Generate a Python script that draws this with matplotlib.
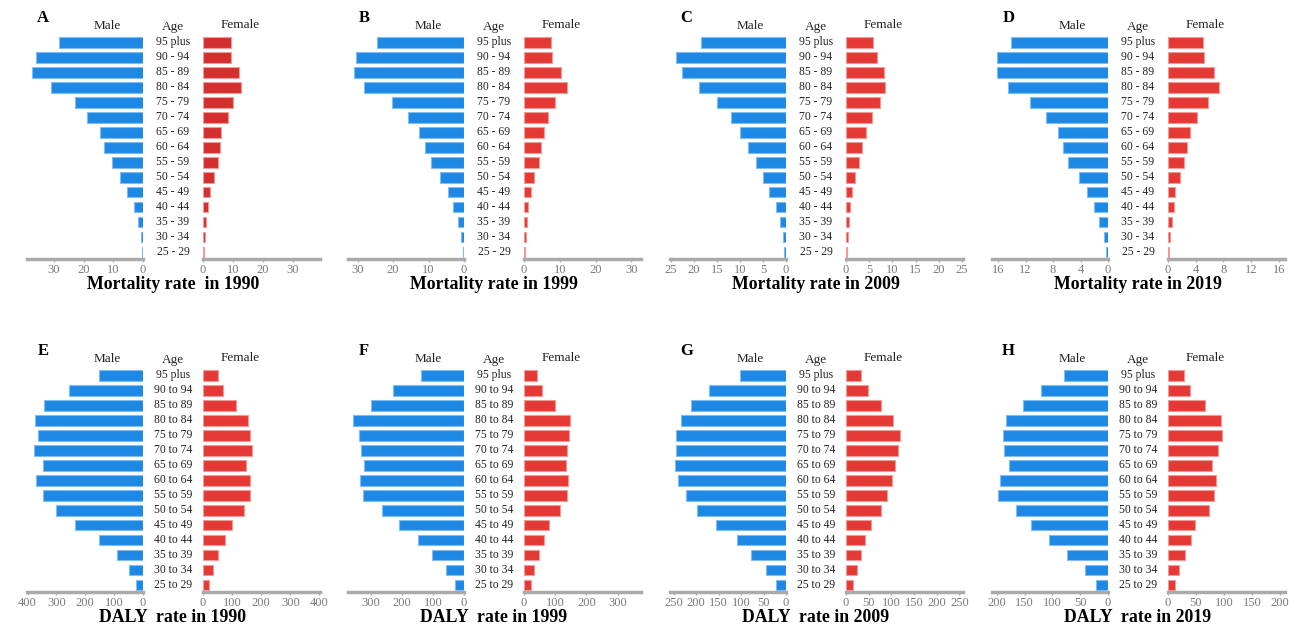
import matplotlib
matplotlib.use("Agg")
import matplotlib.pyplot as plt
import numpy as np

plt.rcParams['font.family'] = ['Liberation Serif', 'DejaVu Serif']

# age groups, listed from the oldest (top row) to the youngest (bottom row)
mort_ages = ["95 plus", "90 - 94", "85 - 89", "80 - 84", "75 - 79", "70 - 74", "65 - 69",
             "60 - 64", "55 - 59", "50 - 54", "45 - 49", "40 - 44", "35 - 39", "30 - 34", "25 - 29"]
daly_ages = ["95 plus", "90 to 94", "85 to 89", "80 to 84", "75 to 79", "70 to 74", "65 to 69",
             "60 to 64", "55 to 59", "50 to 54", "45 to 49", "40 to 44", "35 to 39", "30 to 34", "25 to 29"]

# mortality rate per 100,000
mort_male_1990 = [28.3, 36.1, 37.2, 30.8, 23.0, 18.9, 14.4, 13.0, 10.3, 7.8, 5.3, 3.1, 1.7, 0.8, 0.3]
mort_female_1990 = [9.2, 9.3, 12.1, 12.6, 10.0, 8.3, 6.0, 5.6, 4.9, 3.7, 2.2, 1.6, 1.0, 0.55, 0.3]
mort_male_1999 = [24.4, 30.5, 31.0, 28.2, 20.4, 15.9, 12.7, 11.1, 9.4, 6.7, 4.6, 3.0, 1.8, 0.9, 0.4]
mort_female_1999 = [7.5, 7.9, 10.4, 11.9, 8.8, 6.7, 5.5, 4.8, 4.1, 2.9, 1.9, 1.2, 0.8, 0.55, 0.35]
mort_male_2009 = [18.5, 23.8, 22.5, 18.8, 14.9, 11.9, 10.1, 8.3, 6.5, 5.1, 3.6, 2.1, 1.35, 0.7, 0.35]
mort_female_2009 = [5.9, 6.7, 8.2, 8.4, 7.3, 5.6, 4.4, 3.5, 2.7, 1.9, 1.3, 0.85, 0.65, 0.35, 0.2]
mort_male_2019 = [14.1, 16.2, 16.1, 14.5, 11.4, 9.0, 7.3, 6.6, 5.8, 4.2, 3.1, 2.1, 1.35, 0.6, 0.3]
mort_female_2019 = [5.0, 5.2, 6.7, 7.4, 5.75, 4.2, 3.2, 2.8, 2.3, 1.8, 1.0, 0.8, 0.55, 0.3, 0.15]

# DALY rate per 100,000
daly_male_1990 = [154, 258, 342, 373, 365, 379, 347, 372, 347, 300, 234, 154, 90, 48, 23]
daly_female_1990 = [50, 69, 114, 153, 162, 169, 147, 161, 161, 140, 99, 74, 52, 35, 22]
daly_male_1999 = [140, 228, 301, 360, 341, 333, 323, 335, 326, 265, 209, 150, 103, 57, 28]
daly_female_1999 = [41, 58, 98, 148, 145, 138, 136, 142, 139, 114, 81, 65, 47, 33, 22]
daly_male_2009 = [102, 172, 211, 234, 244, 244, 246, 240, 222, 198, 156, 108, 77, 44, 22]
daly_female_2009 = [33, 49, 77, 104, 118, 114, 107, 102, 90, 77, 56, 42, 33, 24, 15]
daly_male_2019 = [79, 120, 154, 183, 189, 187, 178, 195, 199, 165, 138, 107, 73, 41, 21]
daly_female_2019 = [28, 40, 66, 94, 96, 89, 78, 85, 82, 73, 48, 41, 30, 19, 13]

BLUE = '#1E88E5'
BLUE_EDGE = '#7FBCF2'
RED = '#E53935'
RED_DARK = '#D32F2F'
RED_EDGE = '#F29A98'
GRAY = '#AAAAAA'

# (letter, title, ages, male, female, axis limit, tick step, female colour)
panels = [
    ("A", "Mortality rate  in 1990", mort_ages, mort_male_1990, mort_female_1990, 39, 10, RED_DARK),
    ("B", "Mortality rate in 1999", mort_ages, mort_male_1999, mort_female_1999, 32.7, 10, RED),
    ("C", "Mortality rate in 2009", mort_ages, mort_male_2009, mort_female_2009, 25.2, 5, RED),
    ("D", "Mortality rate in 2019", mort_ages, mort_male_2019, mort_female_2019, 16.9, 4, RED),
    ("E", "DALY  rate in 1990", daly_ages, daly_male_1990, daly_female_1990, 402, 100, RED),
    ("F", "DALY  rate in 1999", daly_ages, daly_male_1999, daly_female_1999, 375, 100, RED),
    ("G", "DALY  rate in 2009", daly_ages, daly_male_2009, daly_female_2009, 258, 50, RED),
    ("H", "DALY  rate in 2019", daly_ages, daly_male_2019, daly_female_2019, 209, 50, RED),
]

W, H = 1298, 626
fig = plt.figure(figsize=(W / 100, H / 100), dpi=100)

col_left = [27, 348, 670, 992]   # px, left edge of the male axes
row_bottom = [259, 592]          # px from top, bottom of the axes
ax_w, gap, ax_h = 116, 60, 224


def style_axis(ax, lim, step, invert):
    ax.set_ylim(-0.45, 14.5)
    ax.set_xlim((lim, 0) if invert else (0, lim))
    ax.set_xticks(np.arange(0, lim + 0.01, step))
    ax.set_yticks([])
    for side in ['top', 'left', 'right']:
        ax.spines[side].set_visible(False)
    ax.spines['bottom'].set_color(GRAY)
    ax.spines['bottom'].set_linewidth(2.5)
    ax.tick_params(axis='x', length=2, width=1, color=GRAY, labelcolor='#7A7A7A',
                   labelsize=9, pad=1.5)
    ax.patch.set_alpha(0)


for k, (letter, title, ages, male, female, lim, step, fcol) in enumerate(panels):
    left = col_left[k % 4]
    bottom = row_bottom[k // 4]
    y0 = 1 - bottom / H
    ax_m = fig.add_axes([left / W, y0, ax_w / W, ax_h / H])
    ax_f = fig.add_axes([(left + ax_w + gap) / W, y0, (ax_w + 1) / W, ax_h / H])

    n = len(ages)
    ypos = np.arange(n)[::-1]
    ax_m.barh(ypos, male, height=0.69, color=BLUE, edgecolor=BLUE_EDGE, linewidth=0.8)
    ax_f.barh(ypos, female, height=0.69, color=fcol, edgecolor=RED_EDGE, linewidth=0.8)
    style_axis(ax_m, lim, step, True)
    style_axis(ax_f, lim, step, False)

    # age labels sit in the gap between the two halves
    mid = (ax_w + gap / 2) / ax_w
    tr = ax_m.get_yaxis_transform()
    for y, lab in zip(ypos, ages):
        ax_m.text(mid, y, lab, transform=tr, ha='center', va='center',
                  fontsize=8.4, color='#222222')

    ax_m.text(0.69, 1.04, "Male", transform=ax_m.transAxes, ha='center', va='center',
              fontsize=9.5, color='#222222')
    ax_m.text(mid, 1.035, "Age", transform=ax_m.transAxes, ha='center', va='center',
              fontsize=9.5, color='#222222')
    ax_f.text(0.32, 1.045, "Female", transform=ax_f.transAxes, ha='center', va='center',
              fontsize=9.5, color='#222222')
    ax_m.text(0.14, 1.075, letter, transform=ax_m.transAxes, ha='center', va='center',
              fontsize=12, fontweight='bold', color='black')
    ax_m.text(mid, -0.115, title, transform=ax_m.transAxes, ha='center', va='center',
              fontsize=12.8, fontweight='bold', color='black')

fig.savefig("out.png", dpi=100)
